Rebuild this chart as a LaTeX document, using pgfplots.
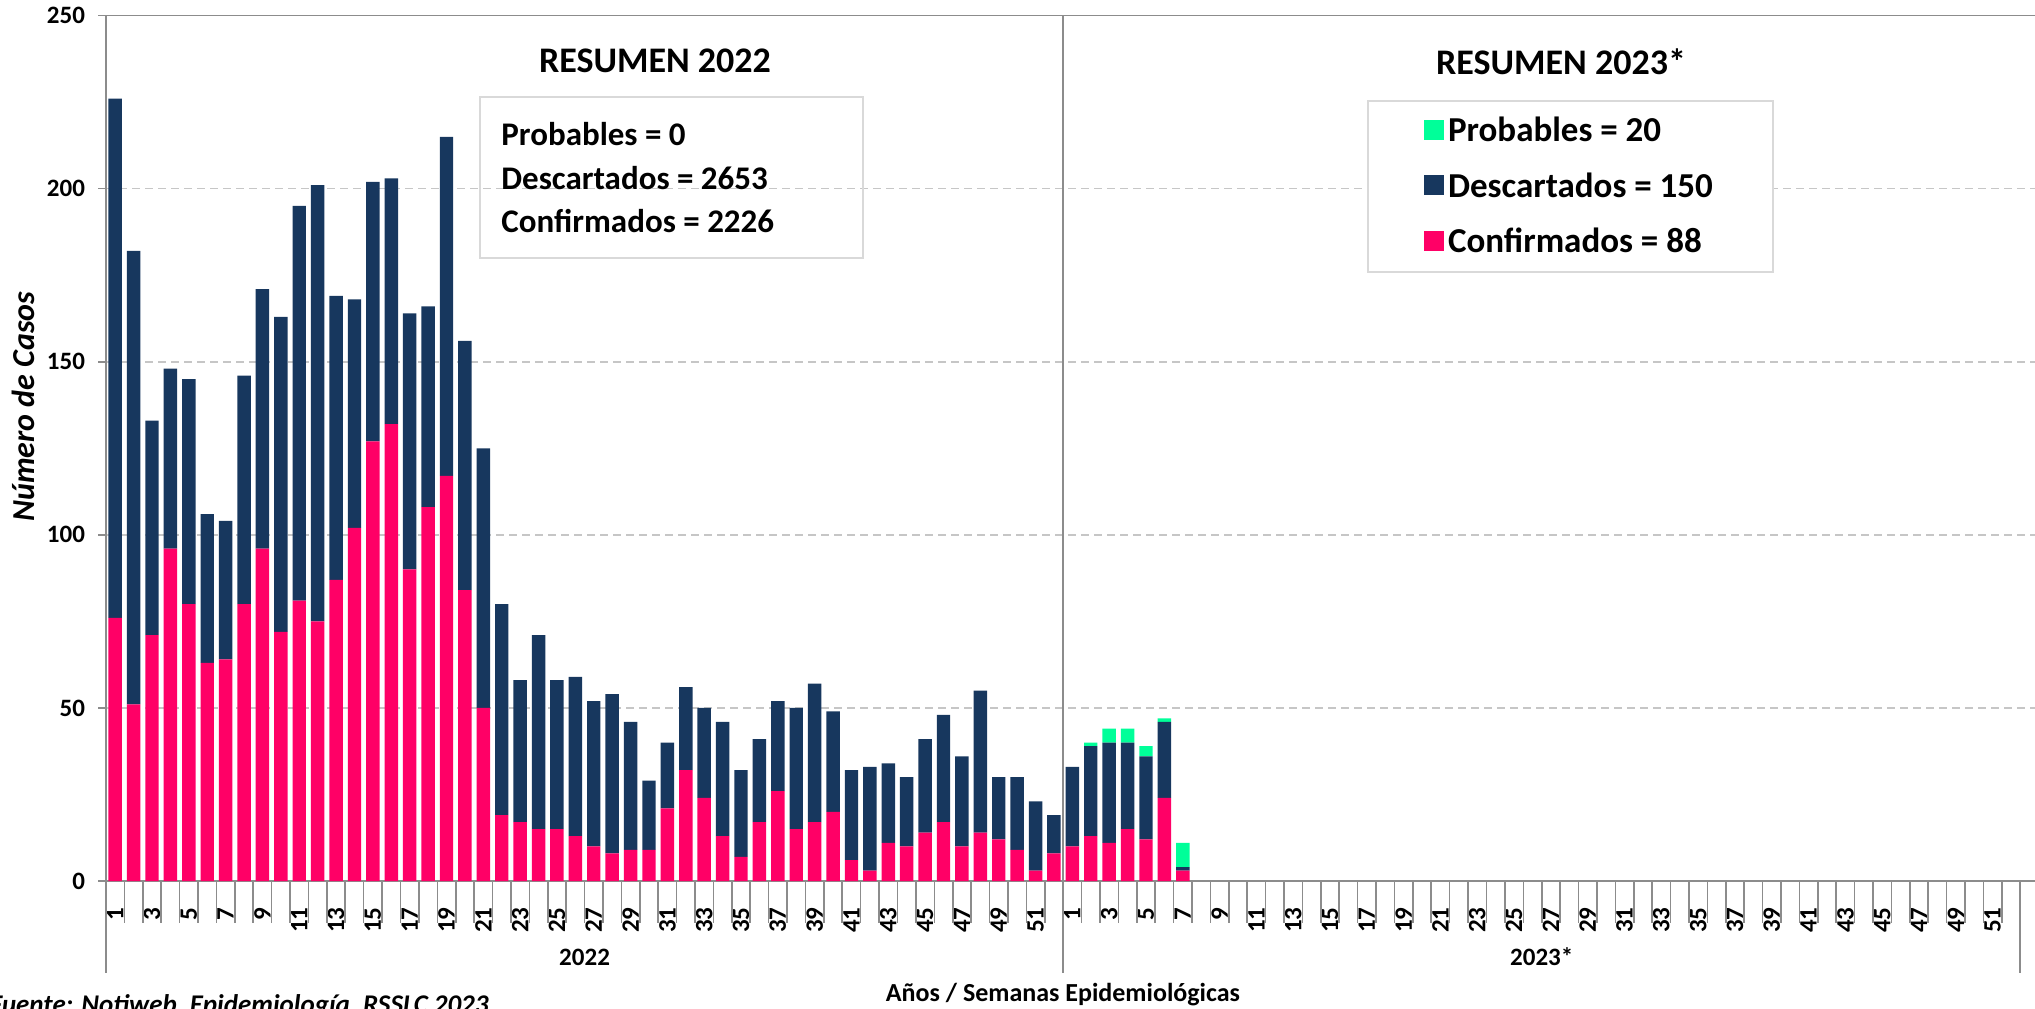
\documentclass[border=0pt]{standalone}
\usepackage{fontspec}
\setmainfont{Carlito}
\usepackage{pgfplots}
\pgfplotsset{compat=1.18}
\usepackage{pgfplotstable}
\definecolor{conf}{HTML}{FF0066}
\definecolor{desc}{HTML}{17375E}
\definecolor{prob}{HTML}{00FF99}
\definecolor{axgray}{HTML}{8C8C8C}

\pgfplotstableread{
x conf desc prob
0 76 150 0
1 51 131 0
2 71 62 0
3 96 52 0
4 80 65 0
5 63 43 0
6 64 40 0
7 80 66 0
8 96 75 0
9 72 91 0
10 81 114 0
11 75 126 0
12 87 82 0
13 102 66 0
14 127 75 0
15 132 71 0
16 90 74 0
17 108 58 0
18 117 98 0
19 84 72 0
20 50 75 0
21 19 61 0
22 17 41 0
23 15 56 0
24 15 43 0
25 13 46 0
26 10 42 0
27 8 46 0
28 9 37 0
29 9 20 0
30 21 19 0
31 32 24 0
32 24 26 0
33 13 33 0
34 7 25 0
35 17 24 0
36 26 26 0
37 15 35 0
38 17 40 0
39 20 29 0
40 6 26 0
41 3 30 0
42 11 23 0
43 10 20 0
44 14 27 0
45 17 31 0
46 10 26 0
47 14 41 0
48 12 18 0
49 9 21 0
50 3 20 0
51 8 11 0
52 10 23 0
53 13 26 1
54 11 29 4
55 15 25 4
56 12 24 3
57 24 22 1
58 3 1 7
}\data

\begin{document}
\begin{tikzpicture}
\useasboundingbox (0,0) rectangle (1017.5pt,504pt);
\clip (0,0) rectangle (1017.5pt,504pt);
\begin{axis}[
  at={(53pt,63.5pt)}, anchor=south west,
  scale only axis, width=964.5pt, height=432.7pt,
  xmin=-0.5, xmax=104.3, ymin=0, ymax=250,
  clip=false,
  ybar stacked, bar width=0.73,
  axis x line*=bottom, axis y line*=left,
  axis line style={-, draw=axgray, line width=0.8pt},
  ytick={0,50,...,250},
  tick align=outside, major tick length=4pt,
  ytick style={draw=axgray, line width=0.8pt},
  xtick style={draw=none},
  ymajorgrids,
  y grid style={draw=gray!45, line width=0.8pt, dash pattern=on 4pt off 2.5pt},
  xtick={0,2,...,102},
  xticklabels={1,3,5,7,9,11,13,15,17,19,21,23,25,27,29,31,33,35,37,39,41,43,45,47,49,51,1,3,5,7,9,11,13,15,17,19,21,23,25,27,29,31,33,35,37,39,41,43,45,47,49,51},
  xticklabel style={yshift=-9pt, rotate=90, anchor=east, font=\fontsize{12.5}{14}\selectfont\bfseries, inner sep=0pt},
  /pgf/number format/assume math mode=true,
  yticklabel style={font=\fontsize{12.5}{14}\selectfont\bfseries, xshift=-3pt},
  ylabel={Número de Casos},
  ylabel style={at={(axis description cs:-0.043,0.548)}, anchor=center, font=\fontsize{16}{18}\selectfont\bfseries\itshape},
  xlabel={Años / Semanas Epidemiológicas},
  xlabel style={at={(axis description cs:0.4961,-0.1398)}, anchor=base, font=\fontsize{13}{15}\selectfont\bfseries},
  legend image code/.code={\fill[#1] (0pt,-4.5pt) rectangle (10pt,5.5pt);},
  reverse legend,
  legend cell align=left,
  legend style={at={(axis description cs:0.6537,0.9025)}, anchor=north west,
    draw=gray!30, line width=1pt, font=\fontsize{17.5}{20}\selectfont\bfseries,
    row sep=10pt, inner xsep=28pt, inner ysep=6pt},
]
\addplot[fill=conf, draw=none] table[x=x, y=conf] {\data};
\addlegendentry{Confirmados = 88}
\addplot[fill=desc, draw=none] table[x=x, y=desc] {\data};
\addlegendentry{Descartados = 150}
\addplot[fill=prob, draw=none] table[x=x, y=prob] {\data};
\addlegendentry{Probables = 20}

\draw[axgray, line width=0.8pt] (axis cs:-0.5,250) -- (axis cs:104.3,250);
\draw[axgray, line width=0.8pt] (axis cs:-0.5,0) -- (axis cs:-0.5,-26.6);
\draw[axgray, line width=0.8pt] (axis cs:51.5,250) -- (axis cs:51.5,-26.6);
\draw[axgray, line width=0.8pt] (axis cs:103.5,0) -- (axis cs:103.5,-26.6);
\node[anchor=base, font=\fontsize{12.5}{14}\selectfont\bfseries] at (axis cs:25.5,-24.27) {2022};
\node[anchor=base, font=\fontsize{12.5}{14}\selectfont\bfseries] at (axis cs:77.5,-24.27) {2023*};
\end{axis}
\foreach \k in {0,...,104} \draw[axgray, line width=0.8pt] ({53pt+\k*9.2033pt},63.5pt) -- ++(0,-21pt);
\node[font=\fontsize{18}{20}\selectfont\bfseries] at (327.5pt,473.5pt) {RESUMEN 2022};
\node[font=\fontsize{18}{20}\selectfont\bfseries] at (780.5pt,473pt) {RESUMEN 2023*};
\draw[gray!30, line width=1pt] (240pt,375pt) rectangle (431.5pt,455.5pt);
\node[anchor=base west, inner sep=0pt, font=\fontsize{16.5}{19}\selectfont\bfseries] at (250.5pt,431pt) {Probables = 0};
\node[anchor=base west, inner sep=0pt, font=\fontsize{16.5}{19}\selectfont\bfseries] at (250.5pt,409pt) {Descartados = 2653};
\node[anchor=base west, inner sep=0pt, font=\fontsize{16.5}{19}\selectfont\bfseries] at (250.5pt,387.5pt) {Confirmados = 2226};
\node[anchor=base east, inner sep=0pt, font=\fontsize{13.5}{15}\selectfont\bfseries\itshape] at (244.5pt,-2.5pt) {Fuente: Notiweb, Epidemiología, RSSLC 2023};
\end{tikzpicture}
\end{document}
